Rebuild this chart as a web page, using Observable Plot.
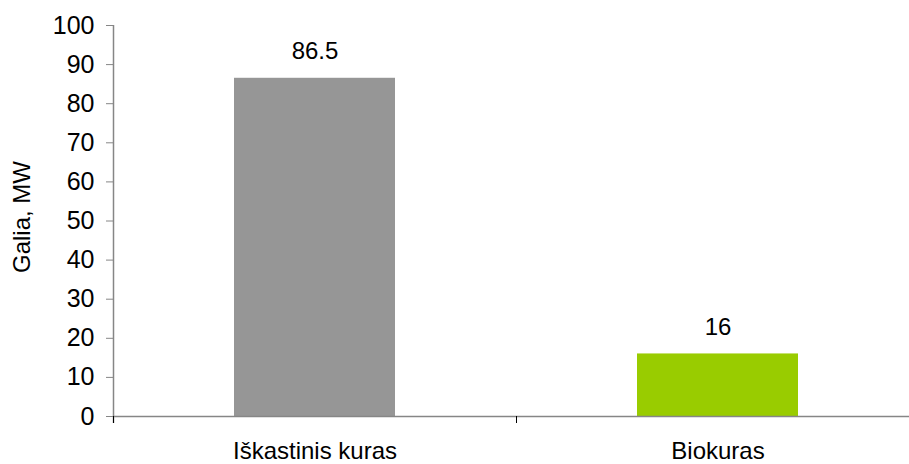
<!DOCTYPE html>
<html>
<head>
<meta charset="utf-8">
<script src="https://cdn.jsdelivr.net/npm/d3@7"></script>
<script src="https://cdn.jsdelivr.net/npm/@observablehq/plot@0.6"></script>
<style>
  html, body { margin: 0; padding: 0; background: #fff; }
  svg { font-family: "Liberation Sans", Arial, sans-serif; }
</style>
</head>
<body>
<div id="chart"></div>
<script>
const categories = ["Iškastinis kuras", "Biokuras"];
const values = [86.5, 16];
const colors = ["#969696", "#99cc00"];
const yTicks = [0, 10, 20, 30, 40, 50, 60, 70, 80, 90, 100];
const yLabel = "Galia, MW";

const data = categories.map((c, i) => ({category: c, value: values[i], color: colors[i]}));

const width = 909, height = 464;
const marginLeft = 113, marginRight = -10, marginTop = 25, marginBottom = 48;
const step = (width - marginRight - marginLeft) / categories.length;
const axisColor = "#868686";
const fs = 24;

const chart = Plot.plot({
  width, height, marginLeft, marginRight, marginTop, marginBottom,
  style: {fontFamily: "'Liberation Sans', Arial, sans-serif", fontSize: fs + "px", color: "#000", background: "#fff"},
  x: {domain: categories, paddingInner: 0.6, paddingOuter: 0.3, label: null},
  y: {domain: [0, 100], ticks: yTicks, label: null},
  marks: [
    Plot.barY(data, {x: "category", y: "value", fill: "color"}),
    Plot.ruleY([0], {stroke: axisColor, strokeWidth: 1.5}),
    Plot.ruleX([categories[0]], {x: d => d, dx: -step / 2, y1: 100, y2: 0, insetBottom: -7, stroke: axisColor, strokeWidth: 1.5}),
    Plot.ruleX(categories, {x: d => d, dx: -step / 2, y1: 0, y2: 0, insetBottom: -7, stroke: "#000", strokeWidth: 1}),
    Plot.axisY({ticks: yTicks, tickSize: 7, tickPadding: 12, fontSize: 25, stroke: axisColor, fill: "#000", label: null}),
    Plot.axisX({tickSize: 0, tickPadding: 25, fontSize: fs, fill: "#000", label: null}),
    Plot.text(data, {x: "category", y: "value", text: d => String(d.value), dy: -19, lineAnchor: "bottom", fontSize: fs, fill: "#000"}),
    Plot.text([yLabel], {frameAnchor: "left", textAnchor: "middle", text: d => d, rotate: -90, dx: -91, dy: -4, fontSize: fs, fill: "#000"})
  ]
});
document.getElementById("chart").appendChild(chart);
</script>
</body>
</html>
